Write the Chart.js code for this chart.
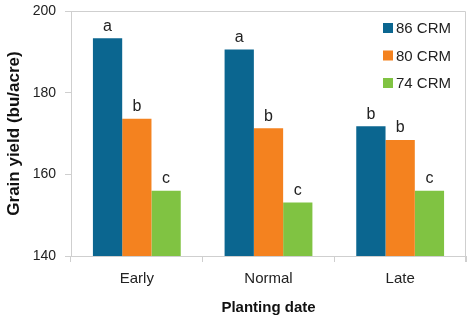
<!DOCTYPE html>
<html>
<head>
<meta charset="utf-8">
<script src="https://cdn.jsdelivr.net/npm/chart.js@4/dist/chart.umd.min.js"></script>
<style>
  html, body { margin: 0; padding: 0; background: #fff; }
  #wrap { width: 475px; height: 321px; }
</style>
</head>
<body>
<div id="wrap"><canvas id="yieldChart" width="475" height="321"></canvas></div>
<script>
// planting date categories and hybrid maturity series
var plantingDates = ["Early", "Normal", "Late"];
var seriesNames = ["86 CRM", "80 CRM", "74 CRM"];
var yield86 = [193.3, 190.6, 171.8];
var yield80 = [173.6, 171.3, 168.4];
var yield74 = [156.0, 153.1, 156.0];
var letters86 = ["a", "a", "b"];
var letters80 = ["b", "b", "b"];
var letters74 = ["c", "c", "c"];
var yTicks = [140, 160, 180, 200];

var seriesColors = ["#0B6690", "#F4821F", "#80C342"];
var fontName = "'Liberation Sans', Arial, sans-serif";

// letters above each bar
var letterPlugin = {
    id: 'letters',
    afterDatasetsDraw: function (chart) {
        var ctx = chart.ctx;
        var allLetters = [letters86, letters80, letters74];
        ctx.save();
        ctx.fillStyle = "#222";
        ctx.font = "16px " + fontName;
        ctx.textAlign = "center";
        ctx.textBaseline = "bottom";
        chart.data.datasets.forEach(function (ds, i) {
            var meta = chart.getDatasetMeta(i);
            meta.data.forEach(function (bar, j) {
                ctx.fillText(allLetters[i][j], bar.x, bar.y - 4);
            });
        });
        ctx.restore();
    }
};

// light grey frame round the plot area
var framePlugin = {
    id: 'frame',
    beforeDatasetsDraw: function (chart) {
        var a = chart.chartArea;
        var ctx = chart.ctx;
        ctx.save();
        ctx.strokeStyle = "#cfcfcf";
        ctx.lineWidth = 1;
        ctx.beginPath();
        ctx.moveTo(a.left, a.top + 0.5);
        ctx.lineTo(a.right - 0.5, a.top + 0.5);
        ctx.lineTo(a.right - 0.5, a.bottom + 6);
        ctx.stroke();
        ctx.restore();
    }
};

// legend inside the plot, top right
var boxLegendPlugin = {
    id: 'boxLegend',
    afterDraw: function (chart) {
        var a = chart.chartArea;
        var ctx = chart.ctx;
        var x0 = a.right - 83;
        ctx.save();
        ctx.font = "15px " + fontName;
        ctx.textBaseline = "middle";
        ctx.textAlign = "left";
        seriesNames.forEach(function (name, i) {
            var cy = a.top + 17 + i * 27.5;
            ctx.fillStyle = seriesColors[i];
            ctx.fillRect(x0, cy - 5, 10, 10);
            ctx.fillStyle = "#222";
            ctx.fillText(name, x0 + 13, cy + 1);
        });
        ctx.restore();
    }
};

new Chart("yieldChart", {
    type: "bar",
    data: {
        labels: plantingDates,
        datasets: [
            { label: seriesNames[0], data: yield86, backgroundColor: seriesColors[0] },
            { label: seriesNames[1], data: yield80, backgroundColor: seriesColors[1] },
            { label: seriesNames[2], data: yield74, backgroundColor: seriesColors[2] }
        ]
    },
    plugins: [letterPlugin, framePlugin, boxLegendPlugin],
    options: {
        responsive: false,
        animation: false,
        layout: { padding: { top: 11, right: 9, left: 0, bottom: 0 } },
        datasets: { bar: { categoryPercentage: 0.667, barPercentage: 1.0 } },
        plugins: {
            legend: { display: false },
            tooltip: { enabled: false }
        },
        scales: {
            x: {
                afterFit: function (scale) {
                    scale.height = 65;
                    scale.paddingLeft = 0;
                    scale.paddingRight = 0;
                },
                grid: {
                    display: true,
                    drawOnChartArea: false,
                    tickLength: 6,
                    color: "#cfcfcf"
                },
                border: { color: "#cfcfcf" },
                ticks: {
                    color: "#222",
                    font: { family: fontName, size: 15 },
                    padding: 8
                },
                title: {
                    display: true,
                    text: "Planting date",
                    color: "#111",
                    font: { family: fontName, size: 15, weight: "bold" },
                    padding: { top: 6 }
                }
            },
            y: {
                min: 140,
                max: 200,
                afterFit: function (scale) {
                    scale.width = 71;
                    scale.paddingTop = 0;
                    scale.paddingBottom = 0;
                },
                afterBuildTicks: function (scale) {
                    scale.ticks = yTicks.map(function (v) { return { value: v }; });
                },
                grid: {
                    display: true,
                    drawOnChartArea: false,
                    tickLength: 6,
                    color: "#cfcfcf"
                },
                border: { color: "#cfcfcf" },
                ticks: {
                    color: "#222",
                    font: { family: fontName, size: 14 },
                    padding: 9
                },
                title: {
                    display: true,
                    text: "Grain yield (bu/acre)",
                    color: "#111",
                    font: { family: fontName, size: 17, weight: "bold" },
                    padding: { bottom: 0 }
                }
            }
        }
    }
});
</script>
</body>
</html>
